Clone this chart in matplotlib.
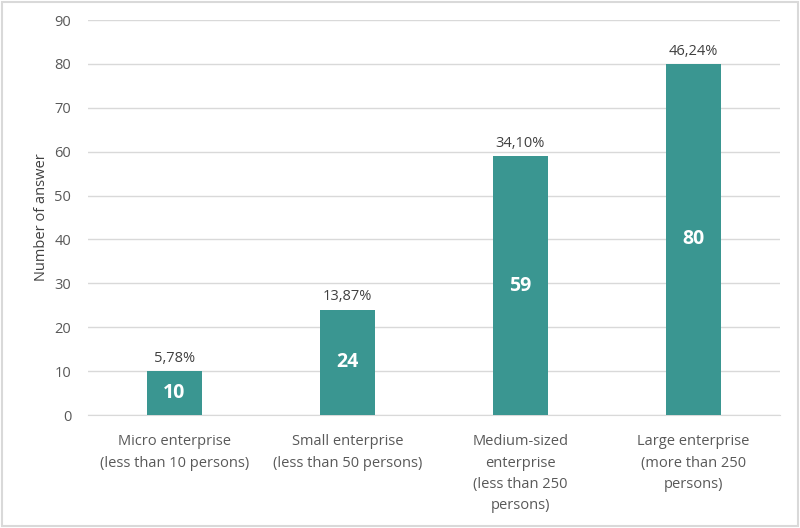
import matplotlib
matplotlib.use('Agg')
from matplotlib import pyplot as plt

plt.rcParams['font.family'] = ['Open Sans', 'DejaVu Sans']

categories = ['Micro enterprise\n(less than 10 persons)',
              'Small enterprise\n(less than 50 persons)',
              'Medium-sized\nenterprise\n(less than 250\npersons)',
              'Large enterprise\n(more than 250\npersons)']
answers = [10, 24, 59, 80]
shares = ['5,78%', '13,87%', '34,10%', '46,24%']

teal = '#3a9691'
grey = '#595959'

fig = plt.figure(figsize=(8, 5.28), dpi=100)
ax = fig.add_axes([0.11, 0.214, 0.865, 0.748])

x = range(len(categories))
bars = ax.bar(x, answers, width=0.32, color=teal, zorder=3)

for b, v, s in zip(bars, answers, shares):
    ax.text(b.get_x() + b.get_width() / 2, v / 2, str(v), ha='center', va='center',
            color='white', fontsize=14, fontweight='bold', zorder=4)
    ax.text(b.get_x() + b.get_width() / 2, v + 1.2, s, ha='center', va='bottom',
            color='#404040', fontsize=10.5)

ax.set_ylim(0, 90)
ax.set_xlim(-0.5, 3.5)
ax.set_yticks(range(0, 91, 10))
ax.set_xticks(list(x))
ax.set_xticklabels(categories, fontsize=10.5, color=grey, linespacing=1.55)
ax.tick_params(axis='y', labelsize=10.5, labelcolor=grey, length=0, pad=12)
ax.tick_params(axis='x', length=0, pad=14)
ax.grid(axis='y', color='#d9d9d9', linewidth=1, zorder=0)
for sp in ['top', 'right', 'left']:
    ax.spines[sp].set_visible(False)
ax.spines['bottom'].set_color('#d9d9d9')
ax.set_ylabel('Number of answer', fontsize=10.5, color='#404040', labelpad=4)

fig.patches.append(plt.Rectangle((0.003, 0.004), 0.994, 0.992, transform=fig.transFigure,
                                 fill=False, edgecolor='#d9d9d9', linewidth=1.5))

fig.savefig('out.png', dpi=100)
